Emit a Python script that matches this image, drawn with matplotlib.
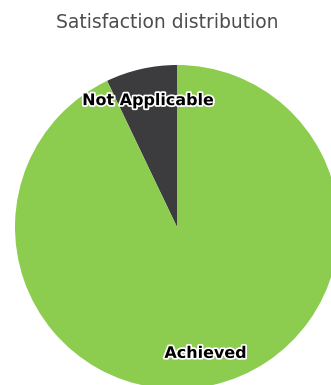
import matplotlib.pyplot as plt
import matplotlib.patheffects as pe

labels = ["Not Applicable", "Achieved"]
values = [7.1, 92.9]
colors = ["#3c3c3f", "#8ccc4f"]

fig = plt.figure(figsize=(3.31, 3.85), dpi=100)
ax = fig.add_axes([0, 0, 1, 1])

wedges, texts = ax.pie(values, labels=labels, colors=colors, startangle=90,
                       counterclock=True, center=(177, 158), radius=162,
                       labeldistance=0.8, frame=True,
                       wedgeprops=dict(linewidth=0))
ax.set_xlim(0, 331)
ax.set_ylim(0, 385)
ax.set_aspect("equal")
ax.axis("off")
for t in texts:
    t.set_ha("center")
    t.set_va("center")
    t.set_fontsize(11.5)
    t.set_fontweight("bold")
    t.set_color("black")
    t.set_path_effects([pe.withStroke(linewidth=2.5, foreground="white")])

fig.text(0.505, 1 - 22 / 385, "Satisfaction distribution", ha="center", va="center",
         fontsize=13.5, color="#4d4d4d")

fig.savefig("out.png", dpi=100)
